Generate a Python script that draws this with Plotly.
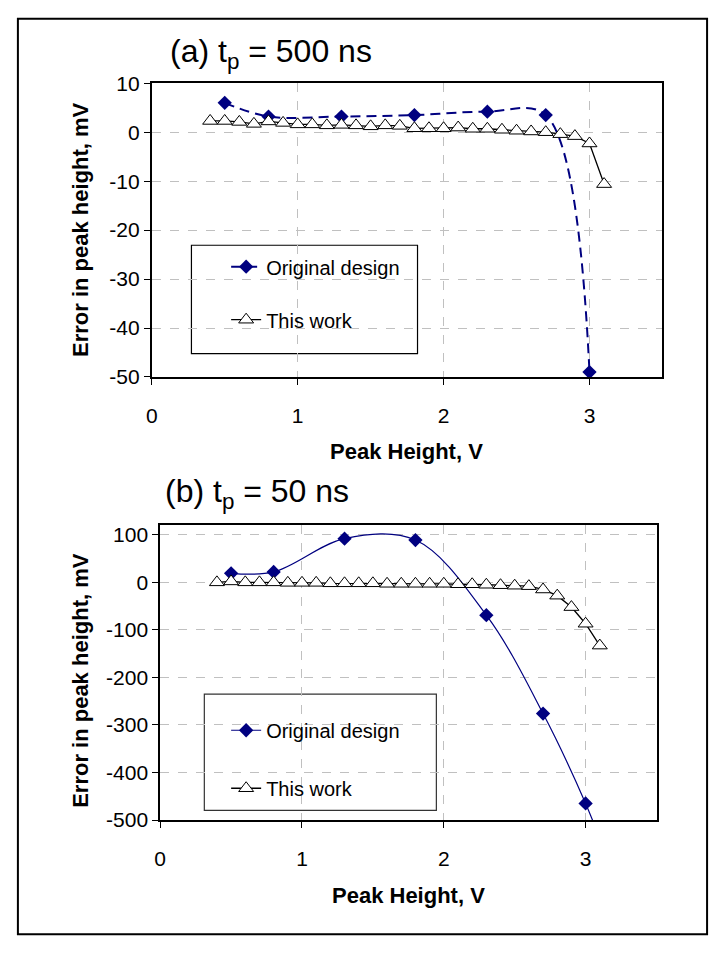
import plotly.graph_objects as go

# ---- data -------------------------------------------------------------
# (a) t_p = 500 ns
x_a_orig = [0.5, 0.8, 1.3, 1.8, 2.3, 2.7, 3.0]
y_a_orig = [6.0, 3.2, 3.2, 3.5, 4.2, 3.5, -49.0]

x_work = [0.4, 0.5, 0.6, 0.7, 0.8, 0.9, 1.0, 1.1, 1.2, 1.3, 1.4, 1.5, 1.6, 1.7,
          1.8, 1.9, 2.0, 2.1, 2.2, 2.3, 2.4, 2.5, 2.6, 2.7, 2.8, 2.9, 3.0, 3.1]
y_a_work = [2.3, 2.3, 2.1, 1.7, 2.2, 1.9, 1.6, 1.6, 1.4, 1.5, 1.4, 1.2, 1.4, 1.3,
            0.8, 0.8, 0.8, 0.95, 0.7, 0.7, 0.5, 0.3, 0.15, 0.0, -0.4, -0.8, -2.3, -10.6]

# (b) t_p = 50 ns
x_b_orig = [0.5, 0.8, 1.3, 1.8, 2.3, 2.7, 3.0, 3.1]
y_b_orig = [19, 22, 92, 89, -69, -276, -465, -540]
y_b_work = [0, 2, 0, 0, 0, -1, -1, -1, -2, -2, -2, -2, -3, -3,
            -3, -3, -3, -4, -4, -5, -6, -7, -8, -15, -28, -52, -87, -133]

x_ticks = [0, 1, 2, 3]
y_ticks_a = [10, 0, -10, -20, -30, -40, -50]
y_ticks_b = [100, 0, -100, -200, -300, -400, -500]

series_names = ["Original design", "This work"]
panel_titles = ["(a) t<sub>p</sub> = 500 ns", "(b) t<sub>p</sub> = 50 ns"]
x_title = "Peak Height, V"
y_title = "Error in peak height, mV"

# ---- styling ----------------------------------------------------------
W, H = 716, 954
FONT = "Liberation Sans, Arial, sans-serif"
NAVY = "#000080"
GRID = "#c0c0c0"


def px(xp):
    return xp / W


def py(yp):
    return 1 - yp / H


def labels(vals):
    # plain hyphen-minus for negative tick labels
    return [str(v) for v in vals]


fig = go.Figure()

# panel (a)
fig.add_trace(go.Scatter(
    x=x_a_orig, y=y_a_orig, name=series_names[0], mode="lines+markers",
    line=dict(color=NAVY, width=2, dash="10px,6px", shape="spline", smoothing=1),
    marker=dict(symbol="diamond", size=11, color=NAVY),
    cliponaxis=False, legend="legend", legendgroup="a1",
    xaxis="x", yaxis="y"))
fig.add_trace(go.Scatter(
    x=x_work, y=y_a_work, name=series_names[1], mode="lines+markers",
    line=dict(color="black", width=1.3),
    marker=dict(symbol="triangle-up", size=13, color="white",
                line=dict(color="black", width=1)),
    legend="legend", legendgroup="a2",
    xaxis="x", yaxis="y"))

# panel (b)
fig.add_trace(go.Scatter(
    x=x_b_orig, y=y_b_orig, name=series_names[0], mode="lines+markers",
    line=dict(color=NAVY, width=1.2, shape="spline", smoothing=1),
    marker=dict(symbol="diamond", size=11, color=NAVY),
    legend="legend2", legendgroup="b1",
    xaxis="x2", yaxis="y2"))
fig.add_trace(go.Scatter(
    x=x_work, y=y_b_work, name=series_names[1], mode="lines+markers",
    line=dict(color="black", width=1.3),
    marker=dict(symbol="triangle-up", size=13, color="white",
                line=dict(color="black", width=1)),
    legend="legend2", legendgroup="b2",
    xaxis="x2", yaxis="y2"))

axis_common = dict(
    showline=True, linecolor="black", linewidth=1.8, mirror=True,
    ticks="outside", ticklen=6, tickcolor="black", tickwidth=1,
    showgrid=True, gridcolor=GRID, griddash="dash", gridwidth=1,
    zeroline=False, tickfont=dict(family=FONT, size=21, color="black"),
)

fig.update_layout(
    width=W, height=H, margin=dict(l=0, r=0, t=0, b=0),
    paper_bgcolor="white", plot_bgcolor="white",
    font=dict(family=FONT, color="black"),
    xaxis=dict(domain=[px(147), px(662)], range=[0, 3.5], tickvals=x_ticks,
               ticktext=labels(x_ticks), anchor="y", ticklabelstandoff=13,
               **axis_common),
    yaxis=dict(domain=[py(374), py(73)], range=[-50, 10], tickvals=y_ticks_a,
               ticktext=labels(y_ticks_a), anchor="x", **axis_common),
    xaxis2=dict(domain=[px(155.5), px(656)], range=[0, 3.5], tickvals=x_ticks,
                ticktext=labels(x_ticks), anchor="y2", ticklabelstandoff=13,
                **axis_common),
    yaxis2=dict(domain=[py(828), py(526)], range=[-500, 120], tickvals=y_ticks_b,
                ticktext=labels(y_ticks_b), anchor="x2", **axis_common),
    legend=dict(x=px(222), y=py(241), xanchor="left", yanchor="top",
                bgcolor="rgba(0,0,0,0)", borderwidth=0, tracegroupgap=24,
                font=dict(family=FONT, size=20, color="black")),
    legend2=dict(x=px(222), y=py(716), xanchor="left", yanchor="top",
                 bgcolor="rgba(0,0,0,0)", borderwidth=0, tracegroupgap=29,
                 font=dict(family=FONT, size=20, color="black")),
    showlegend=True,
)

# legend frames and outer frame
shapes = [
    dict(type="rect", xref="paper", yref="paper", x0=px(187), x1=px(415),
         y0=py(350), y1=py(239), line=dict(color="black", width=1.2),
         fillcolor="white", layer="below"),
    dict(type="rect", xref="paper", yref="paper", x0=px(200), x1=px(434),
         y0=py(818), y1=py(699), line=dict(color="#333333", width=1.2),
         fillcolor="white", layer="below"),
    dict(type="rect", xref="paper", yref="paper", x0=px(12), x1=px(707),
         y0=py(945), y1=py(7), line=dict(color="black", width=2)),
]
fig.update_layout(shapes=shapes)

annotations = [
    dict(text=panel_titles[0], x=px(163), y=py(43), xanchor="left", yanchor="middle",
         font=dict(family=FONT, size=32, color="black")),
    dict(text=panel_titles[1], x=px(158), y=py(493), xanchor="left", yanchor="middle",
         font=dict(family=FONT, size=32, color="black")),
    dict(text="<b>" + x_title + "</b>", x=px(404), y=py(450), xanchor="center",
         yanchor="middle", font=dict(family=FONT, size=22, color="black")),
    dict(text="<b>" + x_title + "</b>", x=px(406), y=py(905), xanchor="center",
         yanchor="middle", font=dict(family=FONT, size=22, color="black")),
    dict(text="<b>" + y_title + "</b>", x=px(75), y=py(223), xanchor="center",
         yanchor="middle", textangle=-90, font=dict(family=FONT, size=22, color="black")),
    dict(text="<b>" + y_title + "</b>", x=px(75), y=py(685), xanchor="center",
         yanchor="middle", textangle=-90, font=dict(family=FONT, size=22, color="black")),
]
for a in annotations:
    a.update(xref="paper", yref="paper", showarrow=False)
fig.update_layout(annotations=annotations)

fig.write_html("out.html")
